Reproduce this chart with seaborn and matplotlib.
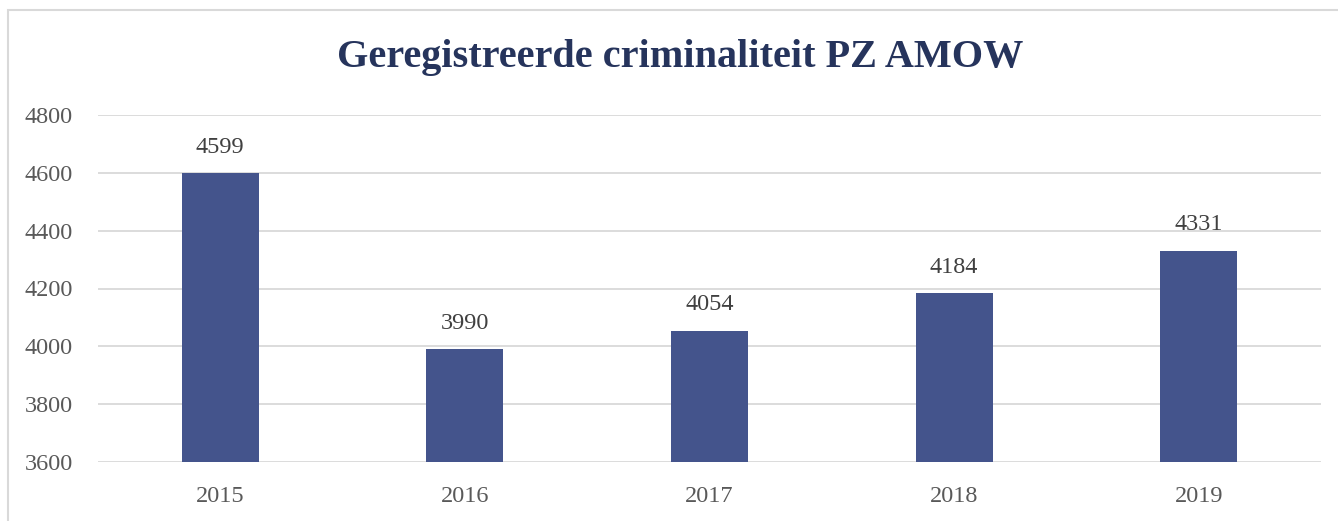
import pandas as pd
import matplotlib
matplotlib.use("Agg")
import matplotlib.pyplot as plt
import seaborn as sns
from matplotlib.patches import Rectangle

years = ["2015", "2016", "2017", "2018", "2019"]
counts = [4599, 3990, 4054, 4184, 4331]
yticks = [3600, 3800, 4000, 4200, 4400, 4600, 4800]

df = pd.DataFrame({"jaar": years, "aantal": counts})

sns.set_theme(style="white")
plt.rcParams["font.family"] = ["Liberation Serif", "DejaVu Serif"]

fig = plt.figure(figsize=(13.38, 5.21), dpi=100)
ax = fig.add_axes([98 / 1338, 1 - 462 / 521, (1321 - 98) / 1338, (462 - 115) / 521])

# bars start at the axis floor, so draw from 3600 upward
sns.barplot(data=df, x="jaar", y="aantal", color="#44548C", saturation=1,
            width=0.315, ax=ax, zorder=3)
for p in ax.patches:
    p.set_edgecolor("none")

ax.set_ylim(3600, 4800)
ax.set_yticks(yticks)
ax.grid(axis="y", color="#d9d9d9", linewidth=1.3, zorder=0)
ax.set_axisbelow(True)
for s in ax.spines.values():
    s.set_visible(False)
ax.set_xlabel("")
ax.set_ylabel("")
ax.tick_params(axis="both", length=0, labelsize=17.5, colors="#595959")
ax.tick_params(axis="y", pad=18)
ax.tick_params(axis="x", pad=17)
for lab in ax.get_yticklabels():
    lab.set_horizontalalignment("right")

for i, v in enumerate(counts):
    ax.annotate(str(v), (i, v), xytext=(0, 11), textcoords="offset points",
                ha="center", va="bottom", fontsize=17.5, color="#404040")

fig.text(680 / 1338, 1 - 57 / 521, "Geregistreerde criminaliteit PZ AMOW",
         ha="center", va="center", fontsize=29, fontweight="bold", color="#26345C")

# chart frame (left and top edges visible in the crop)
fig.patches.append(Rectangle((8 / 1338, -0.1), 1.2, 1 - 10 / 521 + 0.1,
                             transform=fig.transFigure, fill=False,
                             edgecolor="#d9d9d9", linewidth=1.5))

fig.savefig("out.png", dpi=100)
